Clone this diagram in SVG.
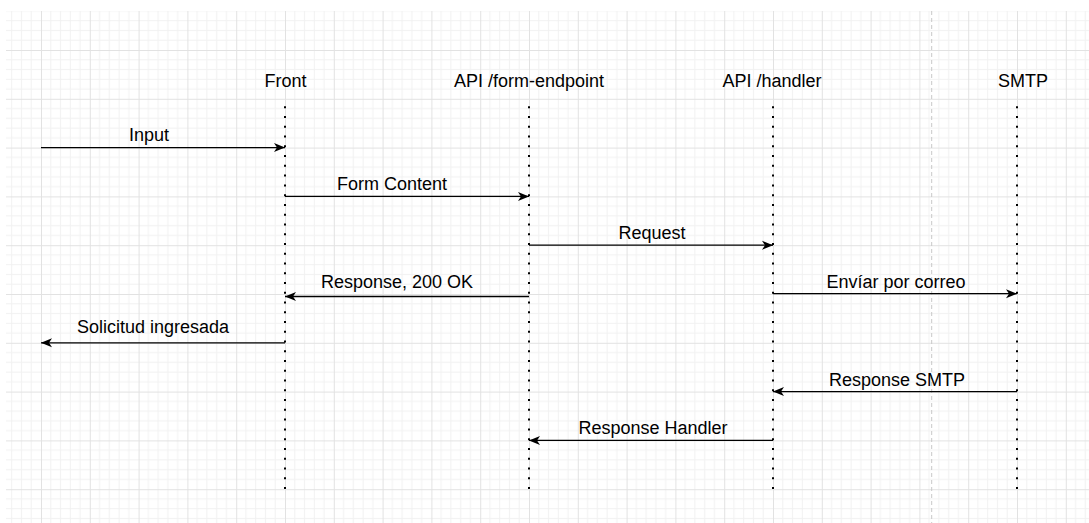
<svg xmlns="http://www.w3.org/2000/svg" width="1089" height="523" viewBox="0 0 1089 523">
  <style>
    .lbl { font-family: "Liberation Sans", Arial, Helvetica, sans-serif; font-size: 18px; fill: #000; text-anchor: middle; }
    .life { stroke: #000; stroke-width: 2; stroke-dasharray: 2 7.76; fill: none; }
    .msg { stroke: #000; stroke-width: 1.3; fill: none; marker-end: url(#arrow); }
  </style>
  <defs>
    <pattern id="grid" patternUnits="userSpaceOnUse" x="41" y="50" width="48.8" height="48.8">
      <g fill="#f1f1f1">
        <rect x="9.26" y="0" width="1" height="48.8"/>
        <rect x="19.02" y="0" width="1" height="48.8"/>
        <rect x="28.78" y="0" width="1" height="48.8"/>
        <rect x="38.54" y="0" width="1" height="48.8"/>
        <rect y="9.26" x="0" height="1" width="48.8"/>
        <rect y="19.02" x="0" height="1" width="48.8"/>
        <rect y="28.78" x="0" height="1" width="48.8"/>
        <rect y="38.54" x="0" height="1" width="48.8"/>
      </g>
      <g fill="#e2e2e2">
        <rect x="0" y="0" width="1" height="48.8"/>
        <rect x="0" y="0" width="48.8" height="1"/>
      </g>
    </pattern>
    <marker id="arrow" markerUnits="userSpaceOnUse" markerWidth="12" markerHeight="11" refX="11" refY="5" orient="auto">
      <path d="M0,0.5 L11,5 L0,9.5 L3,5 Z" fill="#000"/>
    </marker>
  </defs>

  <rect x="0" y="0" width="1089" height="523" fill="#ffffff"/>
  <rect x="6" y="11" width="1083" height="512" fill="url(#grid)"/>
  <line x1="931.7" y1="11" x2="931.7" y2="523" stroke="#c8c8c8" stroke-width="1" stroke-dasharray="4 3"/>

  <g id="front">
    <text class="lbl" x="285.5" y="87">Front</text>
    <line class="life" x1="285" y1="106.3" x2="285" y2="489"/>
  </g>
  <g id="api-form-endpoint">
    <text class="lbl" x="529" y="87">API /form-endpoint</text>
    <line class="life" x1="529" y1="106.3" x2="529" y2="489"/>
  </g>
  <g id="api-handler">
    <text class="lbl" x="772" y="87">API /handler</text>
    <line class="life" x1="773" y1="106.3" x2="773" y2="489"/>
  </g>
  <g id="smtp">
    <text class="lbl" x="1023" y="87">SMTP</text>
    <line class="life" x1="1017" y1="106.3" x2="1017" y2="489"/>
  </g>

  <g id="connectors">
    <line class="msg" x1="41" y1="147.6" x2="285" y2="147.6"/>
    <text class="lbl" x="149" y="141">Input</text>

    <line class="msg" x1="285" y1="196.4" x2="529" y2="196.4"/>
    <text class="lbl" x="392" y="190">Form Content</text>

    <line class="msg" x1="529" y1="245.2" x2="773" y2="245.2"/>
    <text class="lbl" x="652" y="239">Request</text>

    <line class="msg" x1="529" y1="296.5" x2="285" y2="296.5"/>
    <text class="lbl" x="397" y="288">Response, 200 OK</text>

    <line class="msg" x1="773" y1="293.7" x2="1017" y2="293.7"/>
    <text class="lbl" x="896" y="288">Envíar por correo</text>

    <line class="msg" x1="285" y1="342.8" x2="41" y2="342.8"/>
    <text class="lbl" x="153" y="333">Solicitud ingresada</text>

    <line class="msg" x1="1017" y1="391.6" x2="773" y2="391.6"/>
    <text class="lbl" x="897" y="386">Response SMTP</text>

    <line class="msg" x1="773" y1="440.4" x2="529" y2="440.4"/>
    <text class="lbl" x="653" y="434">Response Handler</text>
  </g>
</svg>
